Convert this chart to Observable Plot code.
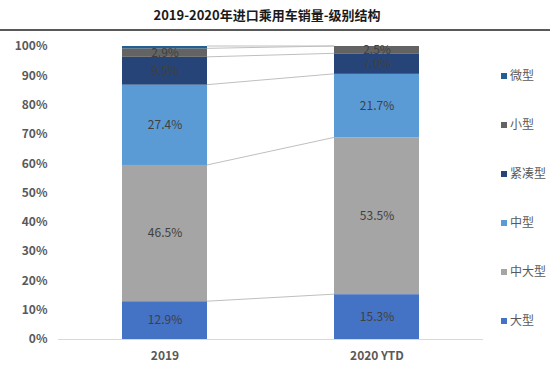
<!DOCTYPE html>
<html>
<head>
<meta charset="utf-8">
<script src="https://cdn.jsdelivr.net/npm/d3@7"></script>
<script src="https://cdn.jsdelivr.net/npm/@observablehq/plot@0.6"></script>
<style>
  body { margin: 0; background: #fff; font-family: "Noto Sans CJK SC", "Noto Sans", sans-serif; }
  #wrap { position: relative; width: 550px; height: 372px; overflow: hidden; }
  #title { height: 29px; line-height: 30px; border-bottom: 2px solid #595959; text-align: center;
           font-size: 13px; font-weight: bold; color: #1a1a1a; padding-right: 16px; box-sizing: content-box; }
  #legend { position: absolute; left: 501px; top: 0; }
  .li { position: absolute; left: 0; white-space: nowrap; font-size: 12px; color: #595959; line-height: 14px; }
  .sw { display: inline-block; width: 6px; height: 6px; margin-right: 3px; vertical-align: 1px; }
  svg [aria-label="y-axis tick label"] text, svg [aria-label="x-axis tick label"] text,
  svg g[aria-label="y-axis"] text, svg g[aria-label="x-axis"] text { font-weight: bold; fill: #595959; }
</style>
</head>
<body>
<div id="wrap">
  <div id="title">2019-2020年进口乘用车销量-级别结构</div>
  <div id="chart"></div>
  <div id="legend"></div>
</div>
<script>
const years = ["2019", "2020 YTD"];
const types = ["大型", "中大型", "中型", "紧凑型", "小型", "微型"];
const colors = ["#4472C4", "#A5A5A5", "#5B9BD5", "#264478", "#636363", "#255E91"];
const values2019 = [12.9, 46.5, 27.4, 9.5, 2.9, 0.8];
const values2020 = [15.3, 53.5, 21.7, 7.0, 2.5, 0.0];
const showLabel = [true, true, true, true, true, false];
const yTicks = [0, 10, 20, 30, 40, 50, 60, 70, 80, 90, 100];

const series = [values2019, values2020];
const rows = [];
const tops = [[], []];
series.forEach((vals, yi) => {
  let acc = 0;
  vals.forEach((v, ti) => {
    rows.push({year: years[yi], type: types[ti], value: v, y1: acc, y2: acc + v, label: showLabel[ti]});
    acc += v;
    tops[yi].push(Math.min(acc, 100));
  });
});
const links = types.map((t, i) => ({type: t, a: tops[0][i], b: tops[1][i]}));

const chart = Plot.plot({
  width: 550,
  height: 340,
  marginLeft: 58,
  marginRight: 67,
  marginTop: 15,
  marginBottom: 32,
  style: {fontFamily: '"Noto Sans CJK SC", "Noto Sans", sans-serif', fontSize: "12px", background: "white"},
  x: {domain: years, paddingInner: 0.6, paddingOuter: 0.3, tickSize: 0, tickPadding: 12, label: null},
  y: {domain: [0, 100], ticks: yTicks, tickFormat: d => d + "%", tickSize: 0, tickPadding: 11, label: null},
  color: {domain: types, range: colors},
  marks: [
    Plot.ruleY([0], {stroke: "#d9d9d9", strokeWidth: 1}),
    Plot.barY(rows.filter(d => d.value > 0), {x: "year", y1: "y1", y2: "y2", fill: "type"}),
    Plot.link(links, {
      x1: () => years[0], x2: () => years[1], y1: "a", y2: "b",
      render: (index, scales, values, dimensions, context) => {
        const x = scales.x, y = scales.y;
        const bw = typeof x.bandwidth === "function" ? x.bandwidth() : (scales.scales?.x?.bandwidth ?? 0);
        const g = d3.create("svg:g").attr("aria-label", "connectors");
        for (const i of index) {
          const d = links[i];
          g.append("line")
            .attr("x1", x(years[0]) + bw).attr("x2", x(years[1]))
            .attr("y1", y(d.a)).attr("y2", y(d.b))
            .attr("stroke", "#bfbfbf").attr("stroke-width", 1);
        }
        return g.node();
      }
    }),
    Plot.text(rows.filter(d => d.label), {
      x: "year", y: d => (d.y1 + d.y2) / 2, text: d => d.value.toFixed(1) + "%",
      fill: "#404040", fontSize: 12
    })
  ]
});
document.getElementById("chart").appendChild(chart);

const legendTops = [75, 124, 173, 222, 271, 320];
const legend = document.getElementById("legend");
const order = [5, 4, 3, 2, 1, 0];
order.forEach((ti, k) => {
  const div = document.createElement("div");
  div.className = "li";
  div.style.top = (legendTops[k] - 7) + "px";
  const sw = document.createElement("span");
  sw.className = "sw";
  sw.style.background = colors[ti];
  div.appendChild(sw);
  div.appendChild(document.createTextNode(types[ti]));
  legend.appendChild(div);
});
</script>
</body>
</html>
